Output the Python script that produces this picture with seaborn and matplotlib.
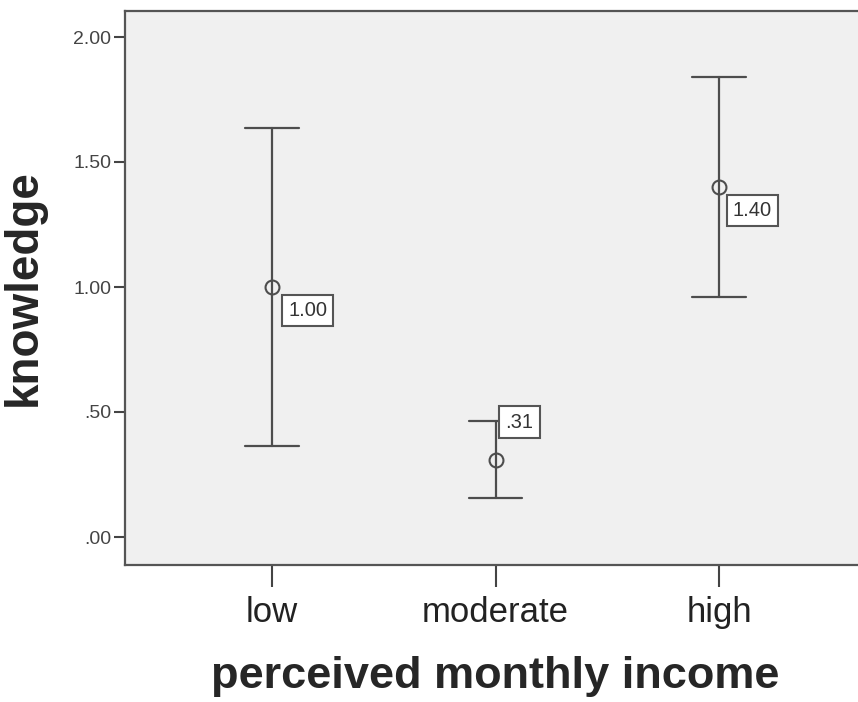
import matplotlib
matplotlib.use("Agg")
from matplotlib import pyplot as plt
import seaborn as sns
import pandas as pd
import numpy as np

# valores (média e limites do intervalo)
categorias = ["low", "moderate", "high"]
media = [1.00, 0.31, 1.40]
limite_inferior = [0.364, 0.156, 0.96]
limite_superior = [1.635, 0.464, 1.84]
rotulos = ["1.00", ".31", "1.40"]
y_ticks = [0.0, 0.5, 1.0, 1.5, 2.0]
y_tick_labels = [".00", ".50", "1.00", "1.50", "2.00"]

sns.set_style("ticks")
plt.rcParams["font.family"] = ["Liberation Sans", "DejaVu Sans"]

# cada categoria vira três linhas (inferior, média, superior): mediana = média, pi 100 = limites
dados = pd.DataFrame({
    "income": np.repeat(categorias, 3),
    "knowledge": np.ravel(np.column_stack([limite_inferior, media, limite_superior])),
})

cor = "#4d4d4d"
figure = plt.figure(figsize = (8.58, 7.02), dpi = 100)
axis = figure.add_axes([125 / 858, 137 / 702, 741 / 858, 554 / 702])
axis.set_facecolor("#f0f0f0")

sns.pointplot(
    data = dados,
    x = "income",
    y = "knowledge",
    order = categorias,
    estimator = "median",
    errorbar = ("pi", 100),
    capsize = 0.24,
    linestyle = "none",
    color = cor,
    marker = "o",
    markersize = 10,
    markerfacecolor = "none",
    markeredgewidth = 1.5,
    err_kws = {"linewidth": 1.6, "color": cor},
    ax = axis
)

# caixas com os valores das médias (deslocamento em pixels)
deslocamentos = [(16, -14), (10, 47), (14, -14)]
for i, (valor, texto) in enumerate(zip(media, rotulos)):
    axis.annotate(
        texto,
        xy = (i, valor),
        xytext = deslocamentos[i],
        textcoords = "offset pixels",
        ha = "left",
        va = "top",
        fontsize = 14.5,
        color = "#333333",
        bbox = dict(boxstyle = "square,pad=0.3", facecolor = "white", edgecolor = "#555555", linewidth = 1.5),
        zorder = 5
    )

axis.set_xlim(-0.658, 2.658)
axis.set_ylim(-0.112, 2.104)
axis.set_yticks(y_ticks)
axis.set_yticklabels(y_tick_labels, fontsize = 14, color = "#444444")
axis.tick_params(axis = "y", length = 8, width = 1.5, pad = 2, color = "#444444")
axis.tick_params(axis = "x", length = 16, width = 1.5, pad = 6, color = "#444444", labelsize = 25, labelcolor = "#222222")

for lado in ["left", "bottom", "top"]:
    axis.spines[lado].set_color("#555555")
    axis.spines[lado].set_linewidth(1.6)
axis.spines["right"].set_visible(False)

axis.set_xlabel("perceived monthly income", fontsize = 32.5, fontweight = "bold", labelpad = 20)
axis.set_ylabel("knowledge", fontsize = 33, fontweight = "bold", labelpad = 20)

plt.savefig("out.png", dpi = 100)
